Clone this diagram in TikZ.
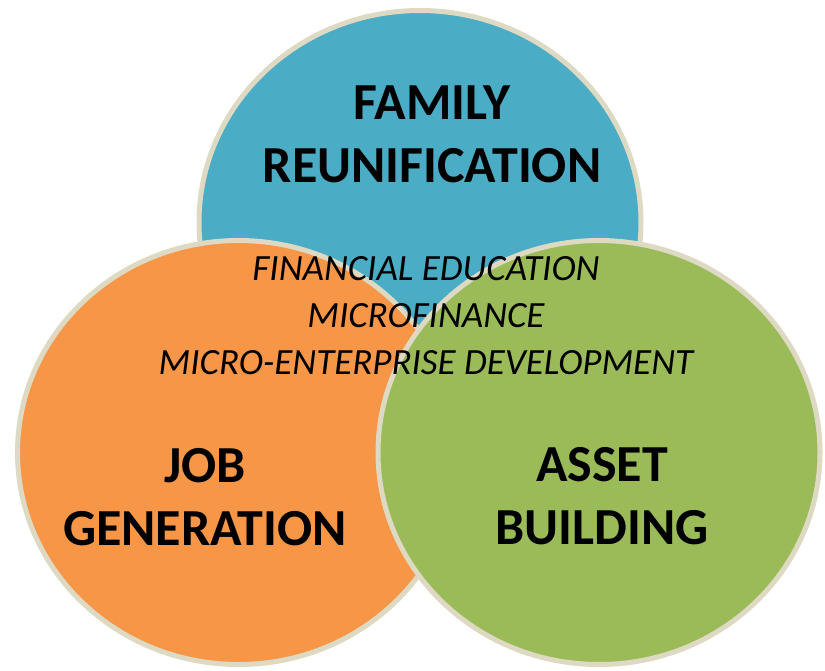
\documentclass[tikz,border=0pt]{standalone}
\usepackage{fontspec}
\setmainfont{Carlito}
\usetikzlibrary{positioning,shapes.geometric}
\definecolor{familyblue}{HTML}{4BACC6}
\definecolor{joborange}{HTML}{F79646}
\definecolor{assetgreen}{HTML}{9BBB59}
\definecolor{rimgray}{HTML}{DDD9C3}
\tikzset{
     bubble/.style={ellipse,draw=rimgray,line width=5pt,inner sep=0pt,minimum width=442pt,minimum height=424pt},
     heading/.style={align=center,font=\fontsize{52}{63}\selectfont\bfseries},
     service/.style={align=center,font=\fontsize{37}{47}\selectfont\itshape}
     }

\begin{document}
\begin{tikzpicture}[x=1pt,y=-1pt]
            \useasboundingbox (0,0) rectangle (825,670);
            % Place circles
            \node[bubble,fill=familyblue] (family) at (420,222.5) {};
            \node[bubble,fill=joborange] (job) at (238.5,452.5) {};
            \node[bubble,fill=assetgreen] (asset) at (599,452.5) {};
            % Place labels
            \node[heading] (familytext) at (432,134) {FAMILY\\REUNIFICATION};
            \node[heading] (jobtext) at (205,497) {JOB\\GENERATION};
            \node[heading] (assettext) at (602,496) {ASSET\\BUILDING};
            \node[service] (services) at (426,316) {FINANCIAL EDUCATION\\MICROFINANCE\\MICRO-ENTERPRISE DEVELOPMENT};
        \end{tikzpicture}
\end{document}
